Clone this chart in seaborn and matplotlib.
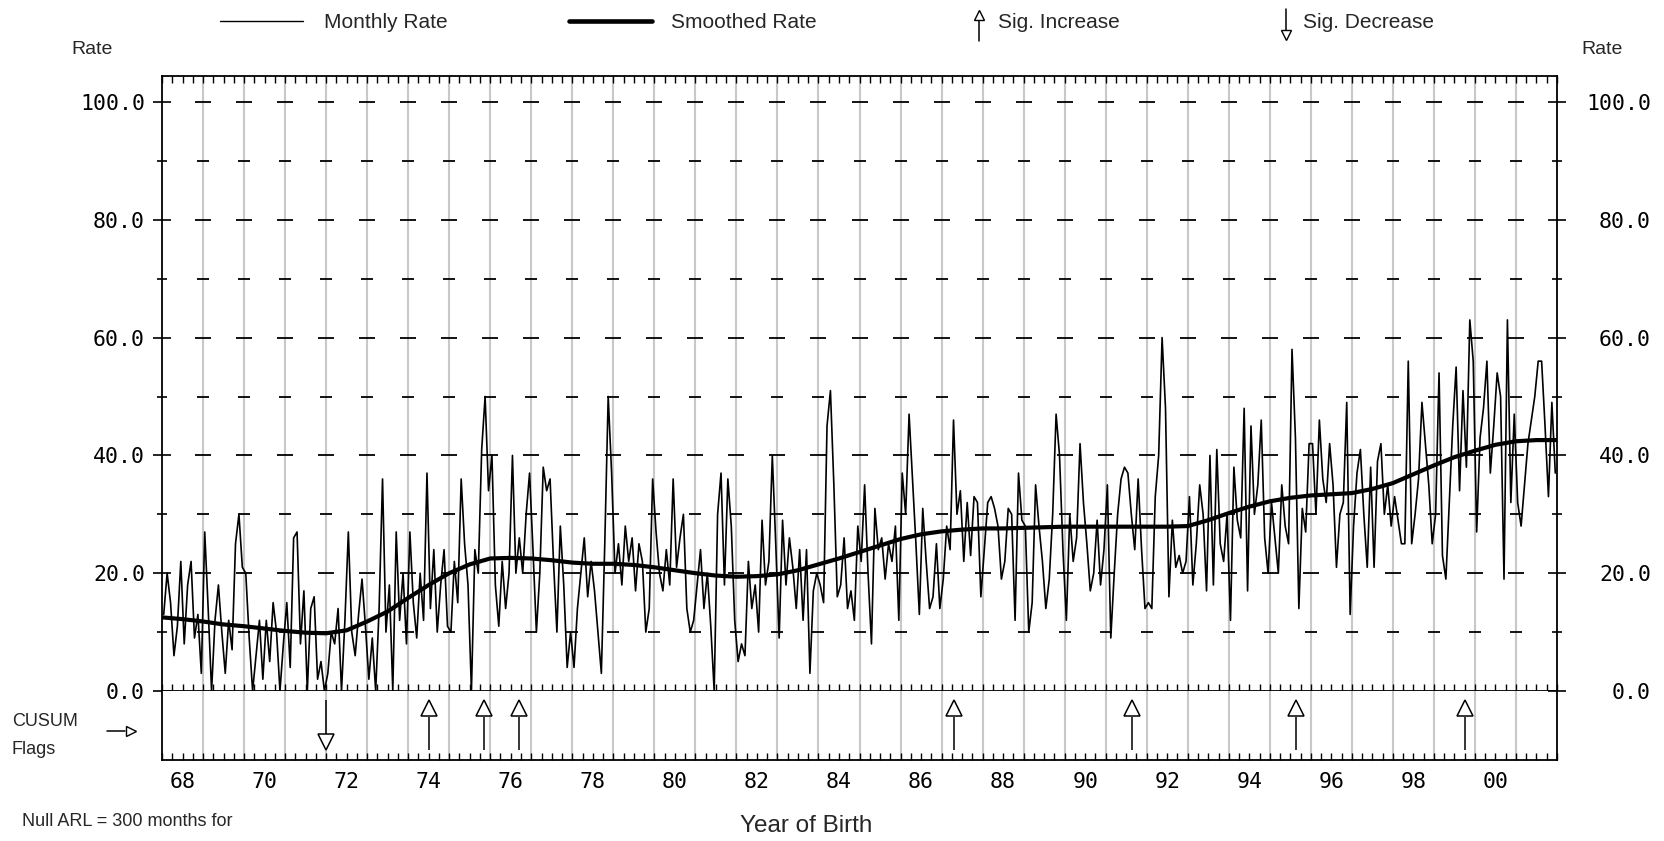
import numpy as np
import pandas as pd
import matplotlib
matplotlib.use("Agg")
import matplotlib.pyplot as plt
import seaborn as sns
from matplotlib.lines import Line2D
from matplotlib.ticker import MultipleLocator, FuncFormatter

# ---------------- data ----------------
start_year = 1968
rate_monthly = [
    13, 20, 15, 6, 11, 22, 8, 18, 22, 9, 13, 3,      # 1968
    27, 14, 0, 12, 18, 10, 3, 12, 7, 25, 30, 21,     # 1969
    20, 9, 0, 6, 12, 2, 12, 5, 15, 10, 0, 8,         # 1970
    15, 4, 26, 27, 8, 17, 0, 14, 16, 2, 5, 0,        # 1971
    3, 10, 8, 14, 0, 12, 27, 10, 6, 13, 19, 11,      # 1972
    2, 9, 0, 14, 36, 10, 18, 0, 27, 12, 20, 8,       # 1973
    27, 15, 9, 20, 12, 37, 14, 24, 10, 18, 24, 11,   # 1974
    10, 22, 15, 36, 25, 18, 0, 24, 20, 41, 50, 34,   # 1975
    40, 18, 11, 22, 14, 20, 40, 20, 26, 20, 30, 37,  # 1976
    24, 10, 20, 38, 34, 36, 22, 10, 28, 18, 4, 10,   # 1977
    4, 14, 20, 26, 16, 22, 17, 10, 3, 25, 50, 37,    # 1978
    20, 25, 18, 28, 22, 26, 17, 25, 22, 10, 14, 36,  # 1979
    27, 20, 17, 24, 18, 36, 21, 26, 30, 14, 10, 12,  # 1980
    18, 24, 14, 20, 11, 0, 30, 37, 18, 36, 28, 12,   # 1981
    5, 8, 6, 22, 14, 18, 10, 29, 18, 22, 40, 25,     # 1982
    9, 29, 18, 26, 21, 14, 24, 12, 24, 3, 17, 20,    # 1983
    18, 15, 45, 51, 35, 16, 18, 26, 14, 17, 12, 28,  # 1984
    22, 35, 20, 8, 31, 24, 26, 19, 25, 22, 28, 12,   # 1985
    37, 30, 47, 36, 25, 13, 31, 22, 14, 16, 25, 14,  # 1986
    19, 28, 24, 46, 30, 34, 22, 32, 23, 33, 32, 16,  # 1987
    24, 32, 33, 31, 28, 19, 22, 31, 30, 12, 37, 29,  # 1988
    28, 10, 15, 35, 28, 22, 14, 19, 30, 47, 40, 24,  # 1989
    12, 30, 22, 26, 42, 32, 25, 17, 20, 29, 18, 24,  # 1990
    35, 9, 20, 30, 36, 38, 37, 30, 24, 36, 24, 14,   # 1991
    15, 14, 33, 40, 60, 48, 16, 29, 21, 23, 20, 22,  # 1992
    33, 18, 25, 35, 30, 17, 40, 18, 41, 25, 22, 30,  # 1993
    12, 38, 29, 26, 48, 17, 45, 30, 35, 46, 26, 20,  # 1994
    32, 26, 20, 35, 28, 25, 58, 43, 14, 31, 27, 42,  # 1995
    42, 30, 46, 36, 32, 42, 35, 21, 30, 32, 49, 13,  # 1996
    28, 37, 41, 30, 21, 38, 21, 39, 42, 30, 35, 28,  # 1997
    33, 29, 25, 25, 56, 25, 30, 36, 49, 42, 35, 25,  # 1998
    30, 54, 23, 19, 32, 45, 55, 34, 51, 38, 63, 56,  # 1999
    27, 43, 48, 56, 37, 45, 54, 50, 19, 63, 32, 47,  # 2000
    32, 28, 35, 42, 46, 50, 56, 56, 45, 33, 49, 37,  # 2001
]
smooth_years = [1968.0 + 0.5 * i for i in range(69)]
smoothed_rate = [
    12.5, 12.2, 11.8, 11.3, 11.0, 10.6, 10.2, 9.9, 9.8, 10.3,
    11.8, 13.5, 15.8, 18.0, 20.0, 21.5, 22.5, 22.6, 22.5, 22.2,
    21.8, 21.6, 21.6, 21.4, 21.0, 20.5, 20.0, 19.6, 19.4, 19.5,
    19.8, 20.5, 21.5, 22.5, 23.6, 24.7, 25.8, 26.6, 27.1, 27.4,
    27.6, 27.6, 27.7, 27.8, 27.9, 27.9, 27.9, 27.9, 27.9, 27.9,
    28.0, 29.0, 30.2, 31.3, 32.2, 32.8, 33.2, 33.4, 33.6, 34.3,
    35.3, 36.8, 38.3, 39.7, 40.8, 41.8, 42.4, 42.6, 42.6,
]
flag_increase = [1974.5, 1975.85, 1976.7, 1987.3, 1991.63, 1995.63, 1999.75]
flag_decrease = [1972.0]
year_labels = ["68", "70", "72", "74", "76", "78", "80", "82", "84",
               "86", "88", "90", "92", "94", "96", "98", "00"]
label_positions = [1968.5 + 2 * i for i in range(len(year_labels))]
y_major = [0, 20, 40, 60, 80, 100]
y_minor = [10, 30, 50, 70, 90]

# ---------------- style ----------------
sns.set_style("white")
plt.rcParams["font.family"] = ["Liberation Sans", "DejaVu Sans"]
MONO = "DejaVu Sans Mono"

W, H = 1665, 841
fig = plt.figure(figsize=(W / 100, H / 100), dpi=100)
fig.patch.set_facecolor("white")


def fx(px):
    return px / W


def fy(py):
    return 1 - py / H


L, R, T, Z, B = 162, 1557, 76, 691, 760
ax = fig.add_axes([fx(L), fy(Z), (R - L) / W, (Z - T) / H])
axc = fig.add_axes([fx(L), fy(B), (R - L) / W, (B - Z) / H])
YMAX = (Z - T) / 5.89

df = pd.DataFrame({
    "t": start_year + (np.arange(len(rate_monthly)) + 0.5) / 12.0,
    "rate": rate_monthly,
})
sm = pd.DataFrame({"t": smooth_years, "rate": smoothed_rate})

years = np.arange(1969, 2002)
GRID = "#c8c8c8"
ax.vlines(years, 0, YMAX, color=GRID, lw=1.5, zorder=0)
axc.vlines(years, 0, 1, color=GRID, lw=1.5, zorder=0)

# dashed horizontal grid marks centred on yearly lines
XX, YY = np.meshgrid(years, y_major[1:])
ax.plot(XX.ravel(), YY.ravel(), ls="none", marker="_", ms=12.2, mew=1.3,
        color="black", zorder=1)
XX, YY = np.meshgrid(years, y_minor)
ax.plot(XX.ravel(), YY.ravel(), ls="none", marker="_", ms=8.6, mew=1.3,
        color="black", zorder=1)

sns.lineplot(data=df, x="t", y="rate", ax=ax, color="black", lw=1.2,
             estimator=None, errorbar=None, sort=False, zorder=3)
sns.lineplot(data=sm, x="t", y="rate", ax=ax, color="black", lw=3.0,
             estimator=None, errorbar=None, sort=False, zorder=4)

ax.set_xlim(1968, 2002)
ax.set_ylim(0, YMAX)
ax.set_xlabel("")
ax.set_ylabel("")
for s in ax.spines.values():
    s.set_visible(True)
    s.set_color("black")
    s.set_linewidth(1.3)

ax.xaxis.remove_overlapping_locs = False
ax.set_xticks(years)
ax.xaxis.set_minor_locator(MultipleLocator(0.25))
ax.tick_params(axis="x", which="major", length=0, labelbottom=False,
               labeltop=False, bottom=False, top=False)
ax.tick_params(axis="x", which="minor", direction="in", length=5, width=1,
               top=True, bottom=True, color="black")

ax.set_yticks(y_major)
ax.set_yticks(y_minor, minor=True)
ax.yaxis.set_major_formatter(FuncFormatter(lambda v, p: f"{v:.1f}"))
ax.tick_params(axis="y", which="major", direction="inout", length=13,
               width=1.2, left=True, right=False, labelleft=True,
               labelright=False, pad=5.7, labelsize=15.5,
               labelfontfamily=MONO, color="black", labelcolor="black")
ax.tick_params(axis="y", which="minor", direction="inout", length=7,
               width=1.2, left=True, right=False, color="black")

axr = ax.twinx()
axr.set_ylim(0, YMAX)
axr.set_yticks(y_major)
axr.set_yticks(y_minor, minor=True)
axr.yaxis.set_major_formatter(FuncFormatter(lambda v, p: f"{v:.1f}"))
axr.tick_params(axis="y", which="major", direction="inout", length=13,
                width=1.2, right=True, left=False, labelright=True,
                labelleft=False, pad=61.2, labelsize=15.5,
                labelfontfamily=MONO, color="black", labelcolor="black")
axr.tick_params(axis="y", which="minor", direction="inout", length=7,
                width=1.2, right=True, left=False, color="black")
for s in axr.spines.values():
    s.set_visible(False)
for t in axr.yaxis.get_major_ticks():
    t.label2.set_horizontalalignment("right")

# ---------------- CUSUM panel ----------------
axc.set_xlim(1968, 2002)
axc.set_ylim(0, 1)
axc.set_yticks([])
axc.xaxis.remove_overlapping_locs = False
axc.set_xticks(label_positions)
axc.set_xticklabels(year_labels)
axc.xaxis.set_minor_locator(MultipleLocator(0.25))
axc.tick_params(axis="x", which="major", length=0, pad=9, labelsize=15.5,
                labelfontfamily=MONO, bottom=True, labelcolor="black")
axc.tick_params(axis="x", which="minor", direction="in", length=5, width=1,
                bottom=True, top=False, color="black")
for k, s in axc.spines.items():
    s.set_color("black")
    s.set_linewidth(1.3)
    s.set_visible(k != "top")

axc.vlines(flag_increase, 0.14, 0.63, color="black", lw=1.1, zorder=3)
axc.plot(flag_increase, [0.75] * len(flag_increase), ls="none", marker="^",
         ms=12, mfc="white", mec="black", mew=1.1, zorder=4)
axc.vlines(flag_decrease, 0.36, 0.87, color="black", lw=1.1, zorder=3)
axc.plot(flag_decrease, [0.265] * len(flag_decrease), ls="none", marker="v",
         ms=12, mfc="white", mec="black", mew=1.1, zorder=4)

# ---------------- legend row ----------------
LY = 21
fig.add_artist(Line2D([fx(220), fx(303)], [fy(LY), fy(LY)], color="black",
                      lw=1.0, transform=fig.transFigure))
fig.text(fx(324), fy(LY + 1), "Monthly Rate", fontsize=15, va="center",
         ha="left")
fig.add_artist(Line2D([fx(569), fx(652)], [fy(LY), fy(LY)], color="black",
                      lw=3.3, transform=fig.transFigure))
fig.text(fx(671), fy(LY + 1), "Smoothed Rate", fontsize=15, va="center",
         ha="left")
fig.add_artist(Line2D([fx(979), fx(979)], [fy(20), fy(41)], color="black",
                      lw=1.1, transform=fig.transFigure))
fig.add_artist(Line2D([fx(979)], [fy(15)], marker="^", ms=7, mfc="white",
                      mec="black", mew=1, transform=fig.transFigure))
fig.text(fx(998), fy(LY + 1), "Sig. Increase", fontsize=15, va="center",
         ha="left")
fig.add_artist(Line2D([fx(1286), fx(1286)], [fy(9), fy(31)], color="black",
                      lw=1.1, transform=fig.transFigure))
fig.add_artist(Line2D([fx(1286)], [fy(35)], marker="v", ms=7, mfc="white",
                      mec="black", mew=1, transform=fig.transFigure))
fig.text(fx(1303), fy(LY + 1), "Sig. Decrease", fontsize=15, va="center",
         ha="left")

# ---------------- other text ----------------
fig.text(fx(92), fy(50), "Rate", fontsize=14, ha="center", va="center")
fig.text(fx(1602), fy(50), "Rate", fontsize=14, ha="center", va="center")
fig.text(fx(12), fy(722), "CUSUM", fontsize=13, ha="left", va="center")
fig.text(fx(12), fy(750), "Flags", fontsize=13, ha="left", va="center")
fig.add_artist(Line2D([fx(107), fx(125)], [fy(731), fy(731)], color="black",
                      lw=1.1, transform=fig.transFigure))
fig.add_artist(Line2D([fx(131)], [fy(731)], marker=">", ms=7, mfc="white",
                      mec="black", mew=1, transform=fig.transFigure))
fig.text(fx(806), fy(826), "Year of Birth", fontsize=17.5, ha="center",
         va="center")
fig.text(fx(22), fy(821), "Null ARL = 300 months for", fontsize=13,
         ha="left", va="center")

fig.savefig("out.png", dpi=100, facecolor="white")
